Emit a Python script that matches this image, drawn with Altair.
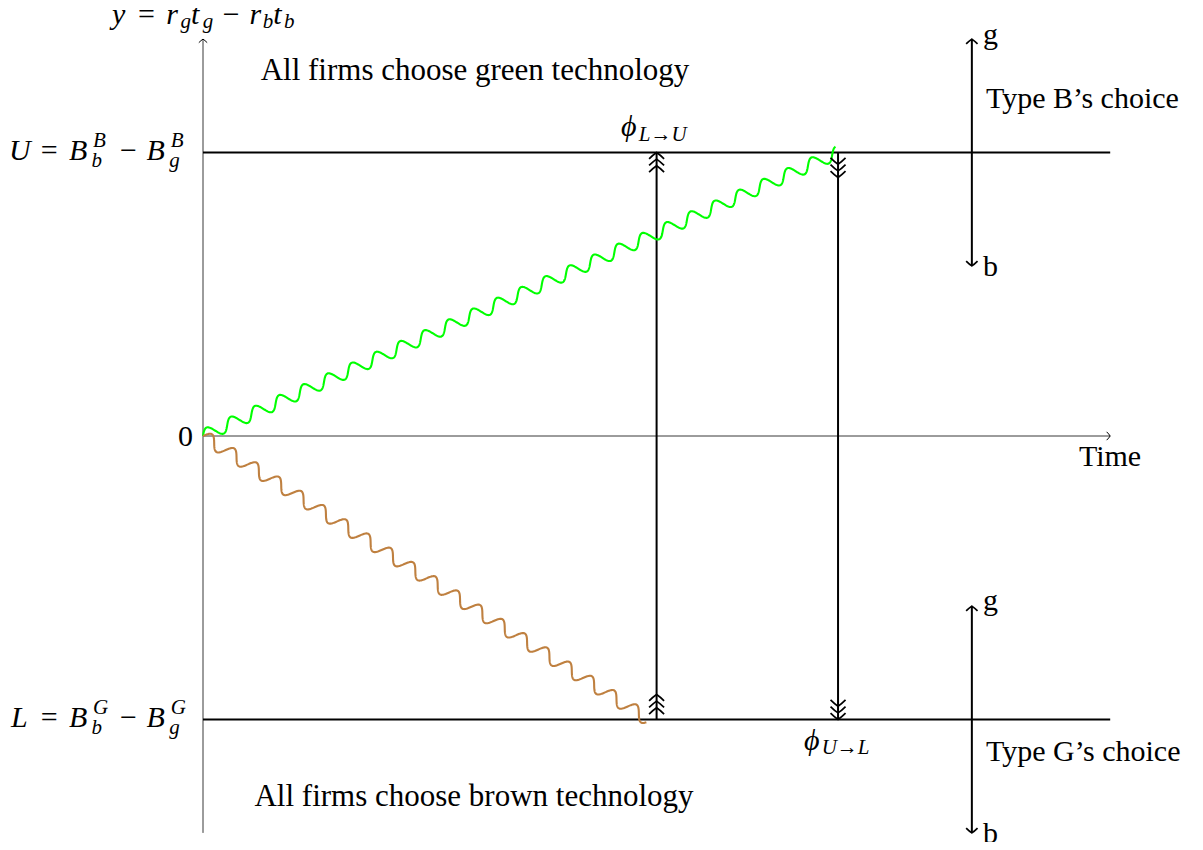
import altair as alt
import pandas as pd

# ------------------------------------------------------------------ data
level_names = ["U", "L"]
level_values = [5.0, -5.0]
time_axis_end = 16.0
value_axis_range = [-7.0, 7.0]
switch_names = ["L→U", "U→L"]
switch_x = [8.0, 11.2]
switch_from = [-5.0, 5.0]
switch_to = [5.0, -5.0]
green_start = [0.0, 0.0]
green_end = [11.2, 5.0]
brown_start = [0.0, 0.0]
brown_end = [7.85, -5.0]
choice_x = 13.56
choice_types = ["B", "G"]
choice_low = [3.0, -7.0]
choice_high = [7.0, -3.0]

# ------------------------------------------------------------------ layout helpers
S = 56.7            # pixels per unit
OX, OY = 203.0, 436.0   # page position of the origin
W, H = 1187, 834


def ux(px):
    return (px - OX) / S


def uy(py):
    return (OY - py) / S


xs = alt.Scale(domain=[ux(8), ux(8 + W)], nice=False, zero=False)
ys = alt.Scale(domain=[uy(8 + H), uy(8)], nice=False, zero=False)


def X(f="x"):
    return alt.X(f"{f}:Q", scale=xs, axis=None)


def Y(f="y"):
    return alt.Y(f"{f}:Q", scale=ys, axis=None)


def rules(rows, sw, color="black"):
    df = pd.DataFrame(rows, columns=["x", "y", "x2", "y2"])
    return alt.Chart(df).mark_rule(color=color, strokeWidth=sw).encode(
        x=X(), y=Y(), x2="x2:Q", y2="y2:Q"
    )


# thin axes
axes = rules(
    [
        (0.0, value_axis_range[0], 0.0, value_axis_range[1]),
        (0.0, 0.0, time_axis_end, 0.0),
    ],
    0.9,
    "#222222",
)

# thick lines: thresholds, switching arrows, choice arrows
thick_rows = [(0.0, v, time_axis_end, v) for v in level_values]
thick_rows += [(x, a, x, b) for x, a, b in zip(switch_x, switch_from, switch_to)]
thick_rows += [(choice_x, lo, choice_x, hi) for lo, hi in zip(choice_low, choice_high)]
thick = rules(thick_rows, 2.0)


# wavy (snake-decorated) paths
AMP = 6.3 / S
LAM = 26.5 / S
N = 1400


def snake(start, end, color):
    df = pd.DataFrame({"x0": [start[0]], "y0": [start[1]], "x1": [end[0]], "y1": [end[1]]})
    return (
        alt.Chart(df)
        .transform_calculate(t=f"sequence(0, {N + 1})")
        .transform_flatten(["t"])
        .transform_calculate(
            s=f"datum.t / {N}",
            len="sqrt(pow(datum.x1 - datum.x0, 2) + pow(datum.y1 - datum.y0, 2))",
            off=f"{AMP} * sin(2 * PI * datum.s * datum.len / {LAM})",
            x="datum.x0 + datum.s * (datum.x1 - datum.x0) - datum.off * (datum.y1 - datum.y0) / datum.len",
            y="datum.y0 + datum.s * (datum.y1 - datum.y0) + datum.off * (datum.x1 - datum.x0) / datum.len",
        )
        .mark_line(color=color, strokeWidth=2.1)
        .encode(x=X(), y=Y(), order="t:Q")
    )


green = snake(green_start, green_end, "#00ff00")
brown = snake(brown_start, brown_end, "#bf8040")

# arrow heads
UP = "M-1,0.85 Q-0.45,0.3 0,0 Q0.45,0.3 1,0.85"
DOWN = "M-1,-0.85 Q-0.45,-0.3 0,0 Q0.45,-0.3 1,-0.85"
RIGHT = "M-0.85,-1 Q-0.3,-0.45 0,0 Q-0.3,0.45 -0.85,1"


def heads(rows, path, size, sw):
    df = pd.DataFrame(rows, columns=["x", "y"])
    return alt.Chart(df).mark_point(
        shape=path, size=size, filled=False, strokeWidth=sw, color="black", opacity=1
    ).encode(x=X(), y=Y())


SP = 6.6 / S       # spacing of stacked heads
TAIL = 25.0 / S    # distance of the tail heads from their start
U_lvl, L_lvl = level_values
x_up, x_down = switch_x

up_rows = [(x_up, U_lvl - k * SP) for k in range(3)]
up_rows += [(x_up, L_lvl + TAIL - k * SP) for k in range(3)]
down_rows = [(x_down, L_lvl + k * SP) for k in range(3)]
down_rows += [(x_down, U_lvl - TAIL + k * SP) for k in range(3)]

triple_up = heads(up_rows, UP, 225, 1.7)
triple_down = heads(down_rows, DOWN, 225, 1.7)

choice_up = heads([(choice_x, hi) for hi in choice_high], UP, 130, 1.7)
choice_down = heads([(choice_x, lo) for lo in choice_low], DOWN, 130, 1.7)

axis_up = heads([(0.0, value_axis_range[1])], UP, 70, 1.0)
axis_right = heads([(time_axis_end, 0.0)], RIGHT, 70, 1.0)


# ------------------------------------------------------------------ text
def text_layer(rows, size, italic=False, align="left"):
    df = pd.DataFrame(rows, columns=["text", "px", "py"])
    df["x"] = df["px"].map(ux)
    df["y"] = df["py"].map(uy)
    kw = dict(
        font="Liberation Serif",
        fontSize=size,
        align=align,
        baseline="alphabetic",
        color="black",
    )
    if italic:
        kw["fontStyle"] = "italic"
    return alt.Chart(df[["text", "x", "y"]]).mark_text(**kw).encode(
        x=X(), y=Y(), text="text:N"
    )


YB = 23.5  # baseline of the y-axis title
math_italic = text_layer(
    [
        ("y", 112, YB), ("r", 166.2, YB), ("t", 191, YB), ("r", 249.4, YB), ("t", 273.2, YB),
        ("U", 9, 159.5), ("B", 69, 159.5), ("B", 146.6, 159.5),
        ("L", 11, 726.5), ("B", 69, 726.5), ("B", 146.6, 726.5),
        ("ϕ", 621, 136), ("ϕ", 804, 749.5),
    ],
    30,
    italic=True,
)

math_ops = text_layer(
    [
        ("=", 146.4, YB), ("−", 231.3, YB),
        ("=", 49.2, 159.5), ("−", 128.4, 159.5),
        ("=", 49.2, 726.5), ("−", 128.4, 726.5),
    ],
    30,
    align="center",
)

scripts = text_layer(
    [
        ("g", 180.6, YB + 4.5), ("g", 202.7, YB + 4.5), ("b", 262.8, YB + 4.5), ("b", 283.9, YB + 4.5),
        (choice_types[0], 93, 147.2), ("b", 91.6, 166.9),
        (choice_types[0], 170.7, 147.2), ("g", 169.2, 166.9),
        (choice_types[1], 93, 714.2), ("b", 91.6, 733.9),
        (choice_types[1], 170.7, 714.2), ("g", 169.2, 733.9),
        (switch_names[0], 638.7, 140.5), (switch_names[1], 821.7, 754),
    ],
    21,
    italic=True,
)

roman_left = text_layer(
    [
        ("g", 983, 43.5), ("b", 983, 276.3),
        ("g", 983, 609.5), ("b", 983, 842.5),
        (f"Type {choice_types[0]}’s choice", 986, 108),
        (f"Type {choice_types[1]}’s choice", 986, 761),
    ],
    30,
)
roman_center = text_layer([("Time", 1110, 466.2)], 30, align="center")
roman_right = text_layer([("0", 193, 445.6)], 30, align="right")
regions = text_layer(
    [
        ("All firms choose green technology", 475, 80),
        ("All firms choose brown technology", 474, 806),
    ],
    31,
    align="center",
)

chart = (
    alt.layer(
        axes, thick, green, brown,
        triple_up, triple_down, choice_up, choice_down, axis_up, axis_right,
        math_italic, math_ops, scripts, roman_left, roman_center, roman_right, regions,
    )
    .properties(width=W, height=H, padding=0, autosize=alt.AutoSizeParams(type="none"), background="white")
    .configure_view(strokeWidth=0)
)

chart.save("out.html", embed_options={"renderer": "svg", "actions": False})
